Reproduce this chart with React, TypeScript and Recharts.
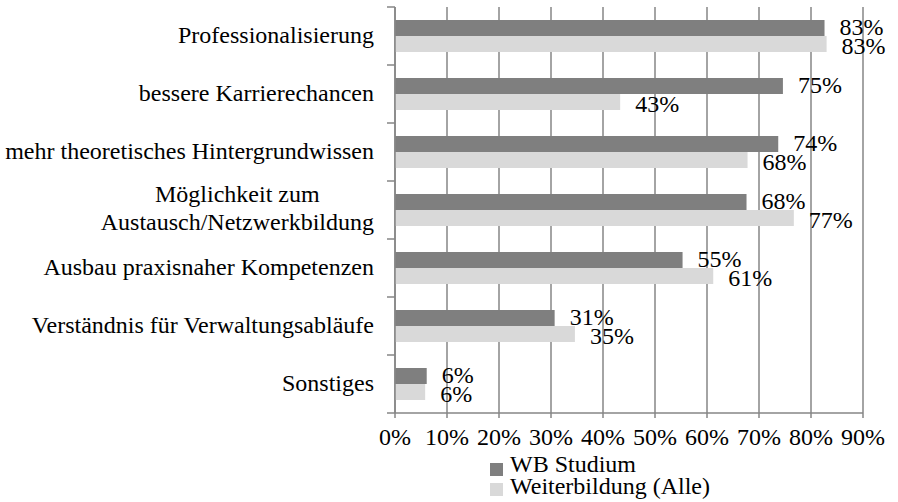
import React from "react";
import { Bar, BarChart, CartesianGrid, LabelList, XAxis, YAxis } from "recharts";

const categories = [
  "Professionalisierung",
  "bessere Karrierechancen",
  "mehr theoretisches Hintergrundwissen",
  "Möglichkeit zum\nAustausch/Netzwerkbildung",
  "Ausbau praxisnaher Kompetenzen",
  "Verständnis für Verwaltungsabläufe",
  "Sonstiges",
];
const wbStudium = [82.6, 74.6, 73.7, 67.6, 55.3, 30.7, 6.1];
const weiterbildungAlle = [83.0, 43.3, 67.8, 76.7, 61.2, 34.6, 5.8];
const xTicks = [0, 10, 20, 30, 40, 50, 60, 70, 80, 90];

const FONT = "Liberation Serif, DejaVu Serif, serif";
const AXIS = "#868686";
const DARK = "#7f7f7f";
const LIGHT = "#d9d9d9";

const W = 898;
const H = 502;
const M = { top: 7, right: 35, left: 0, bottom: 59 };
const Y_WIDTH = 395;
const X_HEIGHT = 30;
const BAND = (H - M.top - M.bottom - X_HEIGHT) / categories.length;

const data = categories.map((name, i) => ({
  name,
  wb: wbStudium[i],
  alle: weiterbildungAlle[i],
}));

let ctx: CanvasRenderingContext2D | null = null;
function textWidth(s: string) {
  try {
    if (!ctx) ctx = document.createElement("canvas").getContext("2d");
    if (ctx) {
      ctx.font = `24px ${FONT}`;
      return ctx.measureText(s).width;
    }
  } catch (e) {}
  return s.length * 10.5;
}

function CategoryTick(props: any) {
  const { x, y, payload, index, visibleTicksCount } = props;
  const axisX = M.left + Y_WIDTH;
  const lines = String(payload.value).split("\n");
  const tickStyle = { stroke: AXIS, strokeWidth: 1.5 };
  let text;
  if (lines.length === 1) {
    text = (
      <text x={x} y={y + 7} textAnchor="end" fontSize={24} fontFamily={FONT} fill="#000">
        {lines[0]}
      </text>
    );
  } else {
    const maxW = Math.max(...lines.map(textWidth));
    const cx = x - maxW / 2;
    text = (
      <text textAnchor="middle" fontSize={24} fontFamily={FONT} fill="#000">
        {lines.map((l, i) => (
          <tspan key={i} x={cx} y={y - 8 + i * 28}>
            {l}
          </tspan>
        ))}
      </text>
    );
  }
  return (
    <g>
      <line x1={axisX - 8} x2={axisX} y1={y - BAND / 2} y2={y - BAND / 2} {...tickStyle} />
      {index === visibleTicksCount - 1 && (
        <line x1={axisX - 8} x2={axisX} y1={y + BAND / 2} y2={y + BAND / 2} {...tickStyle} />
      )}
      {text}
    </g>
  );
}

function makeLabel(dy: number) {
  return (props: any) => {
    const { x, y, width, height, value } = props;
    return (
      <text
        x={Number(x) + Number(width) + 15}
        y={Number(y) + Number(height) / 2 + dy}
        fontSize={24}
        fontFamily={FONT}
        fill="#000"
      >
        {Math.round(Number(value))}%
      </text>
    );
  };
}

const legendItems = [
  { label: "WB Studium", color: DARK },
  { label: "Weiterbildung (Alle)", color: LIGHT },
];

export default function App() {
  return (
    <div style={{ position: "absolute", left: 0, top: 0, width: W, height: H, background: "#fff" }}>
      <BarChart width={W} height={H} data={data} layout="vertical" margin={M} barGap={0}>
        <CartesianGrid horizontal={false} stroke={AXIS} strokeWidth={1.5} />
        <XAxis
          type="number"
          domain={[0, 90]}
          ticks={xTicks}
          interval={0}
          height={X_HEIGHT}
          tickFormatter={(v) => `${v}%`}
          axisLine={{ stroke: AXIS, strokeWidth: 1.5 }}
          tickLine={{ stroke: AXIS, strokeWidth: 1.5 }}
          tickSize={5}
          tickMargin={10}
          tick={{ fill: "#000", fontSize: 24, fontFamily: FONT }}
        />
        <YAxis
          type="category"
          dataKey="name"
          width={Y_WIDTH}
          interval={0}
          axisLine={{ stroke: AXIS, strokeWidth: 1.5 }}
          tickLine={false}
          tickSize={8}
          tickMargin={13}
          tick={<CategoryTick />}
        />
        <Bar dataKey="wb" fill={DARK} barSize={16} isAnimationActive={false}>
          <LabelList dataKey="wb" content={makeLabel(7)} />
        </Bar>
        <Bar dataKey="alle" fill={LIGHT} barSize={16} isAnimationActive={false}>
          <LabelList dataKey="alle" content={makeLabel(10)} />
        </Bar>
      </BarChart>
      {legendItems.map((item, i) => (
        <React.Fragment key={item.label}>
          <div
            style={{
              position: "absolute",
              left: 490,
              top: 463 + i * 20,
              width: 13,
              height: 13,
              background: item.color,
            }}
          />
          <div
            style={{
              position: "absolute",
              left: 510,
              top: 452 + i * 22,
              fontFamily: FONT,
              fontSize: 24,
              lineHeight: "24px",
              color: "#000",
              whiteSpace: "nowrap",
            }}
          >
            {item.label}
          </div>
        </React.Fragment>
      ))}
    </div>
  );
}
